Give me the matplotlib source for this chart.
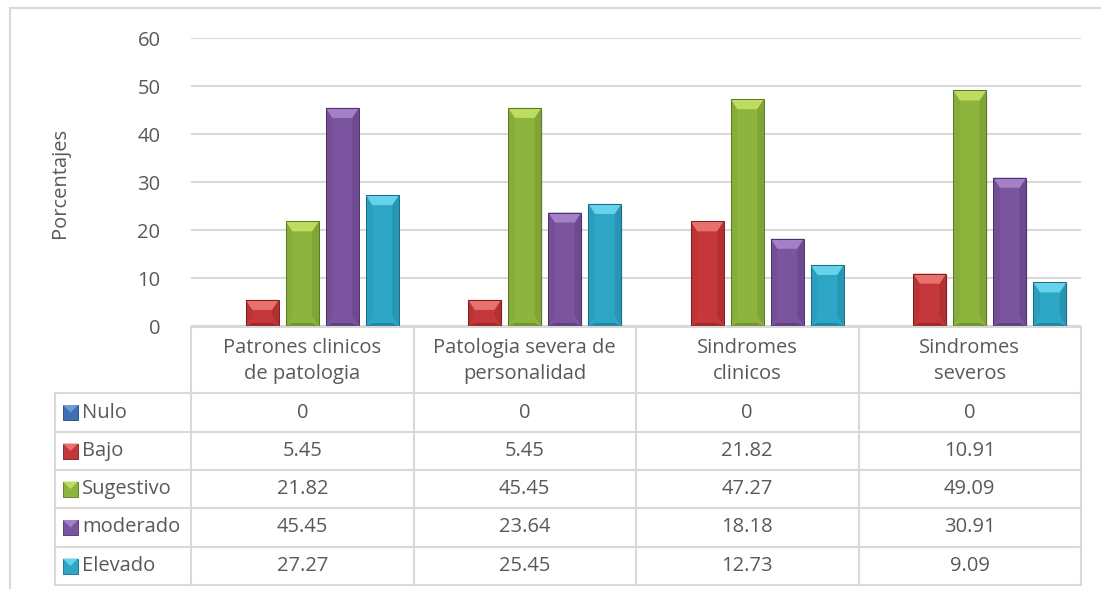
import matplotlib
matplotlib.use("Agg")
import matplotlib.pyplot as plt
import matplotlib.transforms as mtransforms
from matplotlib.patches import Polygon, Rectangle
from matplotlib.lines import Line2D
import numpy as np

plt.rcParams['font.family'] = ['Open Sans', 'DejaVu Sans']

categories = ["Patrones clinicos\nde patologia", "Patologia severa de\npersonalidad",
              "Sindromes\nclinicos", "Sindromes\nseveros"]
series_names = ["Nulo", "Bajo", "Sugestivo", "moderado", "Elevado"]
nulo = [0, 0, 0, 0]
bajo = [5.45, 5.45, 21.82, 10.91]
sugestivo = [21.82, 45.45, 47.27, 49.09]
moderado = [45.45, 23.64, 18.18, 30.91]
elevado = [27.27, 25.45, 12.73, 9.09]
series = [nulo, bajo, sugestivo, moderado, elevado]
y_ticks = [0, 10, 20, 30, 40, 50, 60]

# base, light bevel, dark edge
palette = [("#3E6FB2", "#6F9AD6", "#23467A"),
           ("#C4373A", "#E8706D", "#7E1C1E"),
           ("#8DB43C", "#BEDC62", "#5A7524"),
           ("#7A549E", "#A480C6", "#4A3068"),
           ("#2EA6C5", "#66D3EA", "#166A84")]

W, H = 1101, 589
grid_col = "#D9D9D9"
text_col = "#595959"
fs = 14.5

fig = plt.figure(figsize=(W / 100, H / 100), dpi=100)
ax = fig.add_axes([191 / W, 1 - 326 / H, 890 / W, 288 / H])


def fy(py):
    return 1 - py / H


def fx(px):
    return px / W


x = np.arange(len(categories))
pitch, width = 0.18, 0.148
bev = 2.1  # bevel depth in data units

for i, vals in enumerate(series):
    base, light, dark = palette[i]
    bars = ax.bar(x + (i - 2) * pitch, vals, width, color=base, edgecolor="none", zorder=3)
    for b in bars:
        h = b.get_height()
        if h <= 0:
            continue
        x0, w = b.get_x(), b.get_width()
        d = min(bev, h / 2)
        e = w * 0.2
        # soft shadow on the right
        ax.add_patch(Rectangle((x0 + w, 0), w * 0.05, h * 0.98, color="#000000",
                               alpha=0.07, lw=0, zorder=2))
        # side shading
        ax.add_patch(Polygon([(x0, 0), (x0 + e, d), (x0 + e, h - d), (x0, h)],
                             closed=True, color=dark, alpha=0.12, lw=0, zorder=4))
        ax.add_patch(Polygon([(x0 + w, 0), (x0 + w - e, d), (x0 + w - e, h - d), (x0 + w, h)],
                             closed=True, color=dark, alpha=0.25, lw=0, zorder=4))
        # bottom edge
        ax.add_patch(Polygon([(x0, 0), (x0 + w, 0), (x0 + w - e, d * 0.3), (x0 + e, d * 0.3)],
                             closed=True, color=dark, alpha=0.5, lw=0, zorder=4))
        # top bevel
        ax.add_patch(Polygon([(x0, h), (x0 + w, h), (x0 + w - e, h - d), (x0 + e, h - d)],
                             closed=True, color=light, lw=0, zorder=5))
        ax.add_patch(Rectangle((x0, 0), w, h, fill=False, edgecolor=dark, lw=0.7, zorder=6))

ax.set_xlim(-0.5, len(categories) - 0.5)
ax.set_ylim(0, 60)
ax.set_yticks(y_ticks)
ax.set_xticks([])
ax.yaxis.grid(True, color=grid_col, lw=1.5, zorder=0)
ax.set_axisbelow(True)
for s in ax.spines.values():
    s.set_visible(False)
ax.tick_params(axis="y", length=0, pad=22, labelsize=fs, labelcolor=text_col)
fig.text(fx(60), fy(183), "Porcentajes", rotation=90, ha="center", va="center",
         fontsize=fs, color=text_col)

# chart frame
fig.add_artist(Line2D([fx(10), fx(10)], [fy(8), 0], color=grid_col, lw=1.5))
fig.add_artist(Line2D([fx(10), 1], [fy(8), fy(8)], color=grid_col, lw=1.5))

# data table under the plot
tr = mtransforms.blended_transform_factory(ax.transData, fig.transFigure)
bounds = np.arange(len(categories) + 1) - 0.5
row_y = [393, 432, 470, 508, 547, 585]
top_y = 327
lab_left = fx(55)
lab_right = fx(191)
lk = dict(color=grid_col, lw=1.5)

fig.add_artist(Line2D(bounds[[0, -1]], [fy(top_y)] * 2, transform=tr, **lk))
for yy in row_y:
    fig.add_artist(Line2D([lab_left, lab_right], [fy(yy)] * 2, **lk))
    fig.add_artist(Line2D(bounds[[0, -1]], [fy(yy)] * 2, transform=tr, **lk))
for bx in bounds:
    fig.add_artist(Line2D([bx, bx], [fy(top_y), fy(row_y[-1])], transform=tr, **lk))
fig.add_artist(Line2D([lab_left, lab_left], [fy(row_y[0]), fy(row_y[-1])], **lk))

for j, name in enumerate(categories):
    fig.text(x[j], fy((top_y + row_y[0]) / 2 + 1), name, transform=tr, ha="center",
             va="center", fontsize=fs, color=text_col, linespacing=1.4)

for i, (name, vals) in enumerate(zip(series_names, series)):
    yc = fy((row_y[i] + row_y[i + 1]) / 2)
    base, light, dark = palette[i]
    sq = 15
    fig.add_artist(Rectangle((fx(63), yc - sq / 2 / H), sq / W, sq / H,
                             facecolor=base, edgecolor=dark, lw=0.6))
    fig.add_artist(Polygon([(fx(63), yc + sq / 2 / H), (fx(63 + sq), yc + sq / 2 / H),
                            (fx(63 + sq / 2), yc)], closed=True, color=light, lw=0))
    fig.text(fx(82), yc, name, ha="left", va="center", fontsize=fs, color=text_col)
    for j, v in enumerate(vals):
        fig.text(x[j], yc, f"{v:g}", transform=tr, ha="center", va="center",
                 fontsize=fs, color=text_col)

fig.savefig("out.png", dpi=100)
